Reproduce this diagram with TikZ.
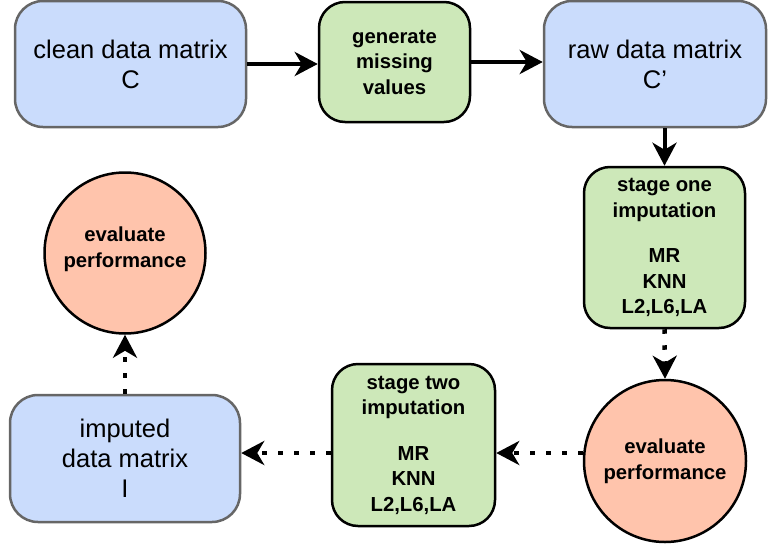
\documentclass[tikz,border=0pt]{standalone}
\usepackage{fontspec}
\setmainfont{Liberation Sans}
\usetikzlibrary{arrows.meta}
\definecolor{bluefill}{HTML}{CADCFC}
\definecolor{greenfill}{HTML}{CDE8B9}
\definecolor{orangefill}{HTML}{FFC4AC}
\definecolor{grayline}{HTML}{666666}
\tikzset{
 bluebox/.style={draw=grayline, fill=bluefill, line width=2.5pt, rounded corners=28pt, minimum width=230pt, minimum height=126pt, align=center, font=\fontsize{25.5}{30}\selectfont, inner sep=0pt},
 greenbox/.style={draw=black, fill=greenfill, line width=2.5pt, rounded corners=26pt, align=center, font=\fontsize{20.3}{25.5}\selectfont\bfseries, inner sep=0pt},
 evalcirc/.style={circle, draw=black, fill=orangefill, line width=2.5pt, minimum size=162pt, inner sep=0pt, align=center, font=\fontsize{20.3}{25.5}\selectfont\bfseries},
 evaltext/.style={align=center, inner sep=0pt, font=\fontsize{20.3}{25.5}\selectfont\bfseries},
 flow/.style={line width=4pt, -{Stealth[length=23pt,width=24pt,inset=7pt]}},
 dotflow/.style={flow, line width=4.5pt, dash pattern=on 4.5pt off 11.5pt},
}
\begin{document}
\begin{tikzpicture}[x=1pt,y=-1pt]
\useasboundingbox (0,0) rectangle (768,546);
\node[bluebox, minimum width=231pt] (clean) at (130.5,64) {clean data matrix\\C};
\node[greenbox, minimum width=151pt, minimum height=120pt] (gen) at (394.5,62) {generate\\missing\\values};
\node[bluebox, minimum width=222pt] (raw) at (655,64) {raw data matrix\\C’};
\node[greenbox, minimum width=161pt, minimum height=161pt] (s1) at (664.5,247.5) {stage one\\imputation\\[20pt]MR\\KNN\\L2,L6,LA};
\node[evalcirc] (e1) at (665,461) {evaluate\\performance};
\node[greenbox, minimum width=163pt, minimum height=162pt] (s2) at (413.5,445) {stage two\\imputation\\[20pt]MR\\KNN\\L2,L6,LA};
\node[bluebox, minimum width=230pt, minimum height=127pt] (imp) at (125,458.5) {imputed\\data matrix\\I};
\node[evalcirc, minimum size=161pt] (e2) at (125,253) {};
\node[evaltext] (e2t) at (125,249) {evaluate\\performance};
\draw[flow] (clean.east) -- (clean.east -| gen.west);
\draw[flow] (gen.east) -- (gen.east -| raw.west);
\draw[flow] (raw.south -| s1.north) -- (s1.north);
\draw[dotflow] (s1.south) -- (e1.north);
\draw[dotflow] (e1.west |- 0,453) -- (s2.east |- 0,453);
\draw[dotflow] (s2.west |- 0,453) -- (imp.east |- 0,453);
\draw[dotflow] (imp.north) -- (e2.south);
\end{tikzpicture}
\end{document}
